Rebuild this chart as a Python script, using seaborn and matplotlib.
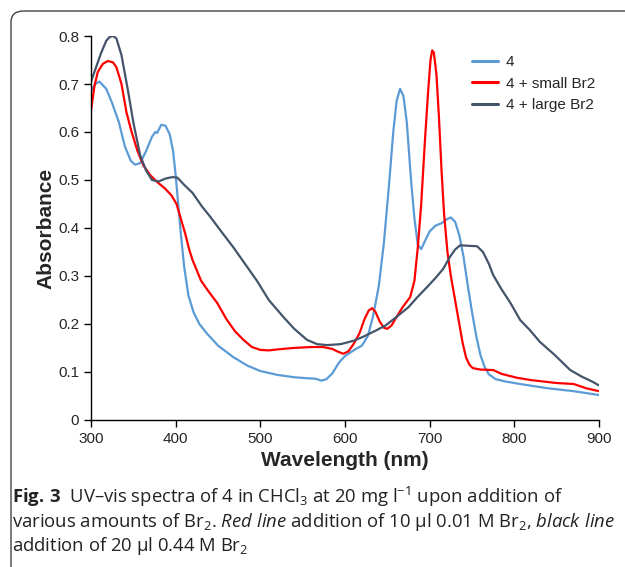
import pandas as pd
import matplotlib.pyplot as plt
import seaborn as sns
from matplotlib.patches import FancyBboxPatch

# spectra (wavelength nm, absorbance)
wl_4 = [300, 305, 310, 318, 325, 333, 340, 347, 352, 358, 365, 372, 376, 378, 383, 388, 393, 397,
        400, 403, 406, 410, 415, 421, 428, 437, 450, 468, 485, 500, 520, 540, 555, 565, 572, 578,
        585, 593, 600, 610, 620, 627, 633, 640, 646, 652, 657, 661, 665, 669, 673, 678, 682, 686,
        690, 695, 700, 707, 714, 720, 725, 730, 735, 740, 745, 750, 755, 760, 765, 770, 778, 790,
        810, 840, 870, 900]
abs_4 = [0.685, 0.70, 0.705, 0.69, 0.66, 0.62, 0.57, 0.54, 0.532, 0.535, 0.56, 0.59, 0.60, 0.598,
         0.615, 0.613, 0.595, 0.56, 0.51, 0.45, 0.39, 0.32, 0.26, 0.225, 0.20, 0.18, 0.155, 0.131,
         0.113, 0.102, 0.094, 0.089, 0.087, 0.086, 0.082, 0.085, 0.097, 0.12, 0.133, 0.145, 0.155,
         0.175, 0.215, 0.28, 0.37, 0.49, 0.60, 0.665, 0.69, 0.675, 0.62, 0.50, 0.42, 0.365, 0.356,
         0.375, 0.393, 0.405, 0.41, 0.418, 0.422, 0.413, 0.385, 0.34, 0.28, 0.225, 0.175, 0.135,
         0.11, 0.095, 0.085, 0.08, 0.074, 0.066, 0.06, 0.052]

wl_small = [300, 304, 308, 314, 320, 326, 330, 336, 342, 348, 355, 362, 370, 378, 387, 395, 401,
            406, 411, 416, 420, 430, 440, 449, 460, 470, 480, 490, 500, 510, 520, 539, 560, 574,
            585, 592, 598, 604, 610, 617, 623, 628, 632, 636, 641, 646, 650, 655, 660, 668, 677,
            682, 686, 690, 694, 698, 701, 703, 705, 708, 711, 714, 717, 721, 725, 730, 735, 739,
            743, 747, 751, 760, 775, 785, 803, 820, 850, 870, 885, 900]
abs_small = [0.645, 0.695, 0.725, 0.742, 0.748, 0.745, 0.735, 0.70, 0.64, 0.60, 0.56, 0.53, 0.51,
             0.496, 0.483, 0.468, 0.45, 0.42, 0.39, 0.355, 0.333, 0.29, 0.265, 0.244, 0.21, 0.185,
             0.167, 0.152, 0.146, 0.145, 0.147, 0.15, 0.152, 0.152, 0.148, 0.142, 0.138, 0.143,
             0.158, 0.18, 0.21, 0.228, 0.233, 0.225, 0.205, 0.192, 0.19, 0.197, 0.212, 0.235,
             0.256, 0.29, 0.36, 0.45, 0.57, 0.68, 0.75, 0.77, 0.765, 0.72, 0.63, 0.52, 0.43, 0.35,
             0.30, 0.25, 0.20, 0.16, 0.13, 0.115, 0.108, 0.105, 0.104, 0.096, 0.088, 0.083, 0.077,
             0.075, 0.066, 0.06]

wl_large = [300, 305, 312, 318, 322, 326, 330, 336, 344, 350, 358, 365, 372, 380, 388, 396, 402,
            410, 420, 431, 441, 455, 468, 482, 496, 510, 527, 540, 555, 567, 579, 595, 610, 621,
            635, 648, 661, 675, 685, 697, 708, 716, 724, 730, 736, 745, 756, 763, 770, 775, 785,
            795, 807, 818, 830, 848, 866, 880, 892, 900]
abs_large = [0.705, 0.73, 0.765, 0.79, 0.798, 0.80, 0.795, 0.76, 0.683, 0.62, 0.552, 0.52, 0.50,
             0.497, 0.503, 0.506, 0.505, 0.49, 0.473, 0.445, 0.423, 0.39, 0.36, 0.325, 0.29, 0.25,
             0.215, 0.19, 0.167, 0.158, 0.156, 0.158, 0.165, 0.173, 0.185, 0.197, 0.215, 0.235,
             0.255, 0.277, 0.298, 0.315, 0.34, 0.355, 0.364, 0.363, 0.362, 0.35, 0.325, 0.302,
             0.272, 0.245, 0.208, 0.188, 0.163, 0.135, 0.104, 0.09, 0.08, 0.072]

labels = ["4", "4 + small Br2", "4 + large Br2"]
colors = ["#5B9BD5", "#FF0000", "#44546A"]

x_ticks = [300, 400, 500, 600, 700, 800, 900]
y_ticks = [0, 0.1, 0.2, 0.3, 0.4, 0.5, 0.6, 0.7, 0.8]
y_ticklabels = ["0", "0.1", "0.2", "0.3", "0.4", "0.5", "0.6", "0.7", "0.8"]

df = pd.concat([
    pd.DataFrame({"wl": wl_4, "A": abs_4, "sample": labels[0]}),
    pd.DataFrame({"wl": wl_small, "A": abs_small, "sample": labels[1]}),
    pd.DataFrame({"wl": wl_large, "A": abs_large, "sample": labels[2]}),
])

sns.set_style("ticks")
plt.rcParams["font.family"] = ["Liberation Sans", "DejaVu Sans"]
plt.rcParams["mathtext.fontset"] = "custom"
plt.rcParams["mathtext.rm"] = "Open Sans"
plt.rcParams["mathtext.it"] = "Open Sans:italic"
plt.rcParams["mathtext.bf"] = "Open Sans:bold"

fig = plt.figure(figsize=(6.25, 5.67), dpi=100)
ax = fig.add_axes([0.1456, 0.2593, 0.8128, 0.6772])

sns.lineplot(data=df, x="wl", y="A", hue="sample", palette=colors, sort=False,
             estimator=None, linewidth=1.6, ax=ax)

ax.set_xlim(300, 900)
ax.set_ylim(0, 0.8)
ax.set_xticks(x_ticks)
ax.set_yticks(y_ticks)
ax.set_yticklabels(y_ticklabels)
ax.tick_params(labelsize=11, length=5, width=1, color="black", direction="out")
sns.despine(ax=ax)
for s in ["left", "bottom"]:
    ax.spines[s].set_color("black")
    ax.spines[s].set_linewidth(1)
ax.set_xlabel("Wavelength (nm)", fontsize=15, fontweight="bold", labelpad=4)
ax.set_ylabel("Absorbance", fontsize=15, fontweight="bold", labelpad=2)

leg = ax.legend(loc="upper left", bbox_to_anchor=(0.75, 0.95), frameon=False, fontsize=11,
                handlelength=1.7, handletextpad=0.5, labelspacing=0.5, borderpad=0,
                borderaxespad=0)
for line in leg.get_lines():
    line.set_linewidth(2.2)

# caption
cap = dict(fontsize=13.3, family="Open Sans", color="#222222", ha="left", va="baseline")
fig.text(12 / 625, 1 - 503 / 567,
         r"$\mathbf{Fig.\,3}$  UV–vis spectra of 4 in CHCl$_3$ at 20 mg l$^{-1}$ upon addition of", **cap)
fig.text(12 / 625, 1 - 527 / 567,
         r"various amounts of Br$_2$. $\mathit{Red\ line}$ addition of 10 µl 0.01 M Br$_2$, $\mathit{black\ line}$", **cap)
fig.text(12 / 625, 1 - 551 / 567, r"addition of 20 µl 0.44 M Br$_2$", **cap)

# rounded frame around the figure panel
frame = FancyBboxPatch((11 / 625, -0.1), 1.2, 1 - 11 / 567 + 0.1,
                       boxstyle="round,pad=0,rounding_size=0.02",
                       transform=fig.transFigure, fill=False, edgecolor="#444444",
                       linewidth=1, clip_on=False)
fig.patches.append(frame)

fig.savefig("out.png", dpi=100)
